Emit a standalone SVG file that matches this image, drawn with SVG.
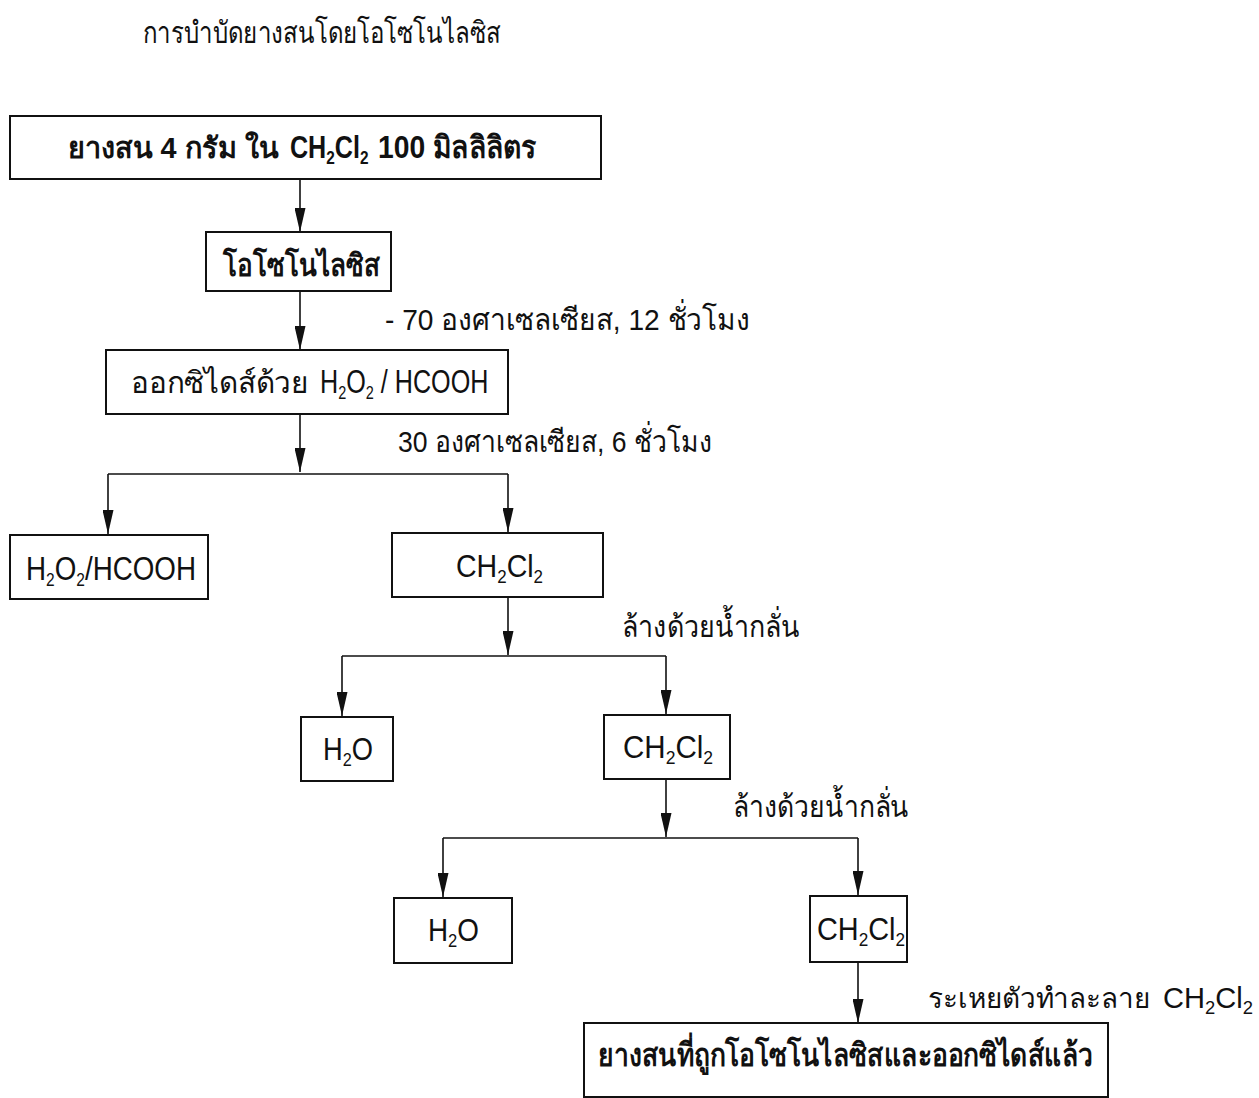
<svg xmlns="http://www.w3.org/2000/svg" width="1259" height="1098" viewBox="0 0 1259 1098">
<style>
.box{fill:#fff;stroke:#111;stroke-width:2}
.t{font-family:"Liberation Sans","Noto Sans",sans-serif;font-size:30px;fill:#111}
.b{font-weight:bold}
.ln{fill:none;stroke:#111;stroke-width:1.6}
.sub{font-size:19px}
</style>
<defs>
<marker id="ah" markerUnits="userSpaceOnUse" markerWidth="24" markerHeight="11" refX="24" refY="5.5" orient="auto" viewBox="0 0 24 11">
<path d="M0,0 L24,5.5 L0,11 z" fill="#111"/>
</marker>
</defs>
<rect width="1259" height="1098" fill="#fff"/>
<text class="t" x="143" y="43" style="font-size:30px" textLength="357" lengthAdjust="spacingAndGlyphs">การบำบัดยางสนโดยโอโซโนไลซิส</text>
<g id="connectors">
<path class="ln" d="M300,179 V232" marker-end="url(#ah)"/>
<path class="ln" d="M300,291 V350" marker-end="url(#ah)"/>
<path class="ln" d="M300,414 V472" marker-end="url(#ah)"/>
<path class="ln" d="M108,474 H508"/>
<path class="ln" d="M108,474 V534" marker-end="url(#ah)"/>
<path class="ln" d="M508,474 V532" marker-end="url(#ah)"/>
<path class="ln" d="M508,597 V655" marker-end="url(#ah)"/>
<path class="ln" d="M342,656 H666"/>
<path class="ln" d="M342,656 V716" marker-end="url(#ah)"/>
<path class="ln" d="M666,656 V714" marker-end="url(#ah)"/>
<path class="ln" d="M666,779 V837" marker-end="url(#ah)"/>
<path class="ln" d="M443,838 H858"/>
<path class="ln" d="M443,838 V897" marker-end="url(#ah)"/>
<path class="ln" d="M858,838 V895" marker-end="url(#ah)"/>
<path class="ln" d="M858,962 V1023" marker-end="url(#ah)"/>
</g>
<g id="labels">
<text class="t" x="385" y="330" textLength="365" lengthAdjust="spacingAndGlyphs">- 70 องศาเซลเซียส, 12 ชั่วโมง</text>
<text class="t" x="398" y="452" textLength="314" lengthAdjust="spacingAndGlyphs">30 องศาเซลเซียส, 6 ชั่วโมง</text>
<text class="t" x="622" y="637" textLength="178" lengthAdjust="spacingAndGlyphs">ล้างด้วยน้ำกลั่น</text>
<text class="t" x="733" y="817" textLength="176" lengthAdjust="spacingAndGlyphs">ล้างด้วยน้ำกลั่น</text>
<text class="t" x="928" y="1008" style="font-size:28px" textLength="222" lengthAdjust="spacingAndGlyphs">ระเหยตัวทำละลาย</text>
<text class="t" transform="translate(1163,1008) scale(0.97,1)">CH<tspan class="sub" dy="6">2</tspan><tspan dy="-6">Cl</tspan><tspan class="sub" dy="6">2</tspan></text>
</g>
<g id="n1"><rect class="box" x="10" y="116" width="591" height="63"/>
<text class="t b" x="68" y="158" style="font-size:29px" textLength="211" lengthAdjust="spacingAndGlyphs">ยางสน 4 กรัม ใน</text>
<text class="t b" transform="translate(290,158) scale(0.81,1)" style="font-size:31px">CH<tspan class="sub" dy="6">2</tspan><tspan dy="-6">Cl</tspan><tspan class="sub" dy="6">2</tspan></text>
<text class="t b" x="378" y="158" style="font-size:31px" textLength="159" lengthAdjust="spacingAndGlyphs">100 มิลลิลิตร</text></g>
<g id="n2"><rect class="box" x="206" y="232" width="185" height="59"/>
<text class="t b" x="223" y="276" style="font-size:31px" textLength="157" lengthAdjust="spacingAndGlyphs">โอโซโนไลซิส</text></g>
<g id="n3"><rect class="box" x="106" y="350" width="402" height="64"/>
<text class="t" x="131" y="393" style="font-size:30px" textLength="178" lengthAdjust="spacingAndGlyphs">ออกซิไดส์ด้วย</text>
<text class="t" transform="translate(320,393) scale(0.762,1)" style="font-size:33px">H<tspan class="sub" dy="6">2</tspan><tspan dy="-6">O</tspan><tspan class="sub" dy="6">2</tspan><tspan dy="-6"> / HCOOH</tspan></text></g>
<g id="n4"><rect class="box" x="10" y="535" width="198" height="64"/>
<text class="t" transform="translate(26,580) scale(0.817,1)" style="font-size:34px">H<tspan class="sub" dy="6">2</tspan><tspan dy="-6">O</tspan><tspan class="sub" dy="6">2</tspan><tspan dy="-6">/HCOOH</tspan></text></g>
<g id="n5"><rect class="box" x="392" y="533" width="211" height="64"/>
<text class="t" transform="translate(456,577) scale(0.892,1)" style="font-size:32px">CH<tspan class="sub" dy="6">2</tspan><tspan dy="-6">Cl</tspan><tspan class="sub" dy="6">2</tspan></text></g>
<g id="n6"><rect class="box" x="301" y="717" width="92" height="64"/>
<text class="t" transform="translate(323,760) scale(0.853,1)" style="font-size:32px">H<tspan class="sub" dy="6">2</tspan><tspan dy="-6">O</tspan></text></g>
<g id="n7"><rect class="box" x="604" y="715" width="126" height="64"/>
<text class="t" transform="translate(623,758) scale(0.923,1)" style="font-size:32px">CH<tspan class="sub" dy="6">2</tspan><tspan dy="-6">Cl</tspan><tspan class="sub" dy="6">2</tspan></text></g>
<g id="n8"><rect class="box" x="394" y="898" width="118" height="65"/>
<text class="t" transform="translate(428,941) scale(0.87,1)" style="font-size:32px">H<tspan class="sub" dy="6">2</tspan><tspan dy="-6">O</tspan></text></g>
<g id="n9"><rect class="box" x="810" y="896" width="97" height="66"/>
<text class="t" transform="translate(817,940) scale(0.903,1)" style="font-size:32px">CH<tspan class="sub" dy="6">2</tspan><tspan dy="-6">Cl</tspan><tspan class="sub" dy="6">2</tspan></text></g>
<g id="n10"><rect class="box" x="584" y="1023" width="524" height="74"/>
<text class="t b" x="598" y="1066" style="font-size:32px" textLength="495" lengthAdjust="spacingAndGlyphs">ยางสนที่ถูกโอโซโนไลซิสและออกซิไดส์แล้ว</text></g>
</svg>
